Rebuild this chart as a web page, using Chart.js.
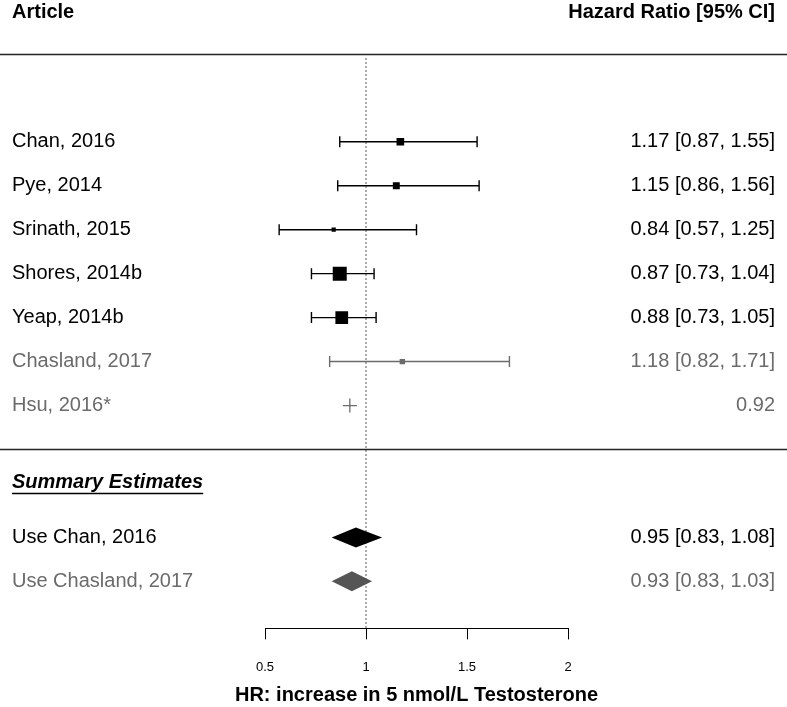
<!DOCTYPE html>
<html>
<head>
<meta charset="utf-8">
<script src="https://cdn.jsdelivr.net/npm/chart.js@4.4.1/dist/chart.umd.min.js"></script>
<style>
  body { margin: 0; background: #fff; }
  canvas { display: block; }
</style>
</head>
<body>
<canvas id="forest" width="787" height="707"></canvas>
<script>
// data
const studies = ['Chan, 2016', 'Pye, 2014', 'Srinath, 2015', 'Shores, 2014b', 'Yeap, 2014b', 'Chasland, 2017', 'Hsu, 2016*'];
const hr = [1.17, 1.15, 0.84, 0.87, 0.88, 1.18, 0.92];
const lower = [0.87, 0.86, 0.57, 0.73, 0.73, 0.82, null];
const upper = [1.55, 1.56, 1.25, 1.04, 1.05, 1.71, null];

const summaryLabels = ['Use Chan, 2016', 'Use Chasland, 2017'];
const summaryHr = [0.95, 0.93];
const summaryLower = [0.83, 0.83];
const summaryUpper = [1.08, 1.03];

const xTicks = [0.5, 1, 1.5, 2];
const xTitle = 'HR: increase in 5 nmol/L Testosterone';

// styles
const FONT = '"Liberation Sans", Arial, sans-serif';
const GREY = '#6b6b6b';
const studyColors = ['#000', '#000', '#000', '#000', '#000', GREY, GREY];
const markerSizes = [5.4, 4.9, 3.0, 9.9, 9.0, 3.8]; // rect radius, ~ study weight
const summaryColors = ['#000', '#555'];
const summaryRows = [9, 10];

function fmt(v) { return v.toFixed(2); }

const forestDraw = {
  id: 'forestDraw',
  beforeDatasetsDraw(chart) {
    const {ctx, scales: {x, y}} = chart;
    ctx.save();

    // reference line at HR = 1
    ctx.setLineDash([1.5, 2.5]);
    ctx.strokeStyle = '#444';
    ctx.lineWidth = 1.2;
    ctx.beginPath();
    ctx.moveTo(x.getPixelForValue(1), y.getPixelForValue(-1.9));
    ctx.lineTo(x.getPixelForValue(1), chart.chartArea.bottom);
    ctx.stroke();
    ctx.setLineDash([]);

    // confidence intervals
    studies.forEach((s, i) => {
      if (lower[i] == null) return;
      const yy = y.getPixelForValue(i);
      const x0 = x.getPixelForValue(lower[i]);
      const x1 = x.getPixelForValue(upper[i]);
      ctx.strokeStyle = studyColors[i];
      ctx.lineWidth = 1.4;
      ctx.beginPath();
      ctx.moveTo(x0, yy); ctx.lineTo(x1, yy);
      ctx.moveTo(x0, yy - 5.5); ctx.lineTo(x0, yy + 5.5);
      ctx.moveTo(x1, yy - 5.5); ctx.lineTo(x1, yy + 5.5);
      ctx.stroke();
    });

    // summary diamonds
    summaryHr.forEach((v, i) => {
      const yy = y.getPixelForValue(summaryRows[i]);
      ctx.fillStyle = summaryColors[i];
      ctx.beginPath();
      ctx.moveTo(x.getPixelForValue(summaryLower[i]), yy);
      ctx.lineTo(x.getPixelForValue(v), yy - 10);
      ctx.lineTo(x.getPixelForValue(summaryUpper[i]), yy);
      ctx.lineTo(x.getPixelForValue(v), yy + 10);
      ctx.closePath();
      ctx.fill();
    });
    ctx.restore();
  },
  afterDraw(chart) {
    const {ctx, chartArea, scales: {y}} = chart;
    const W = chart.width;
    const left = 12, right = 775;
    ctx.save();

    // separators
    ctx.strokeStyle = '#222';
    ctx.lineWidth = 1.5;
    [-2, 7].forEach(r => {
      const yy = Math.round(y.getPixelForValue(r)) + 0.5;
      ctx.beginPath();
      ctx.moveTo(0, yy); ctx.lineTo(W, yy);
      ctx.stroke();
    });

    ctx.textBaseline = 'middle';

    // headers
    ctx.fillStyle = '#000';
    ctx.font = 'bold 20px ' + FONT;
    const hy = y.getPixelForValue(-2.93);
    ctx.textAlign = 'left';
    ctx.fillText('Article', left, hy);
    ctx.textAlign = 'right';
    ctx.fillText('Hazard Ratio [95% CI]', right, hy);

    // axis title (wider than the plot area, so drawn here)
    ctx.textAlign = 'center';
    ctx.fillText(xTitle, (chartArea.left + chartArea.right) / 2, 695);

    // study rows
    ctx.font = '20px ' + FONT;
    studies.forEach((s, i) => {
      const yy = y.getPixelForValue(i);
      ctx.fillStyle = studyColors[i];
      ctx.textAlign = 'left';
      ctx.fillText(s, left, yy);
      ctx.textAlign = 'right';
      const txt = lower[i] == null ? fmt(hr[i]) : fmt(hr[i]) + ' [' + fmt(lower[i]) + ', ' + fmt(upper[i]) + ']';
      ctx.fillText(txt, right, yy);
    });

    // summary heading
    ctx.fillStyle = '#000';
    ctx.font = 'italic bold 20px ' + FONT;
    ctx.textAlign = 'left';
    const sy = y.getPixelForValue(7.75);
    ctx.fillText('Summary Estimates', left, sy);
    const w = ctx.measureText('Summary Estimates').width;
    ctx.strokeStyle = '#000';
    ctx.lineWidth = 1.5;
    ctx.beginPath();
    ctx.moveTo(left, sy + 11); ctx.lineTo(left + w, sy + 11);
    ctx.stroke();

    // summary rows
    ctx.font = '20px ' + FONT;
    summaryLabels.forEach((s, i) => {
      const yy = y.getPixelForValue(summaryRows[i]);
      ctx.fillStyle = i === 0 ? '#000' : GREY;
      ctx.textAlign = 'left';
      ctx.fillText(s, left, yy);
      ctx.textAlign = 'right';
      ctx.fillText(fmt(summaryHr[i]) + ' [' + fmt(summaryLower[i]) + ', ' + fmt(summaryUpper[i]) + ']', right, yy);
    });
    ctx.restore();
  }
};

const ctx = document.getElementById('forest');

new Chart(ctx, {
  type: 'scatter',
  data: {
    datasets: [
      {
        data: hr.slice(0, 6).map((v, i) => ({x: v, y: i})),
        pointStyle: 'rect',
        pointRadius: markerSizes,
        backgroundColor: studyColors.slice(0, 6),
        borderWidth: 0
      },
      {
        data: [{x: hr[6], y: 6}],
        pointStyle: 'cross',
        pointRadius: 7,
        borderColor: GREY,
        borderWidth: 1.3
      }
    ]
  },
  options: {
    responsive: false,
    animation: false,
    events: [],
    layout: { padding: { left: 265, right: 219, top: 7, bottom: 12 } },
    plugins: {
      legend: { display: false },
      tooltip: { enabled: false }
    },
    scales: {
      x: {
        type: 'linear',
        min: 0.5,
        max: 2,
        afterBuildTicks: s => { s.ticks = xTicks.map(v => ({value: v})); },
        border: { display: true, color: '#000', width: 1 },
        grid: { drawOnChartArea: false, drawTicks: true, tickLength: 11, tickColor: '#000', lineWidth: 1 },
        ticks: {
          color: '#000',
          padding: 20,
          font: { family: FONT, size: 13 },
          callback: v => String(v)
        },
        title: { display: false }
      },
      y: {
        type: 'linear',
        display: false,
        reverse: true,
        min: -3,
        max: 11.07
      }
    }
  },
  plugins: [forestDraw]
});
</script>
</body>
</html>
